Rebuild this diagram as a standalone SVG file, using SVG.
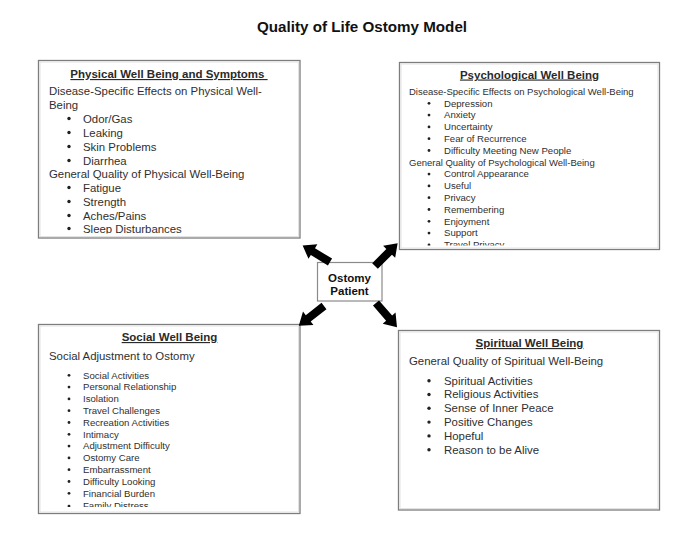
<svg xmlns="http://www.w3.org/2000/svg" width="700" height="541" viewBox="0 0 700 541">
<style>
.box{fill:#fff;stroke:#7d7d7d;stroke-width:1.3}
.inner{fill:none;stroke:#e2e2e2;stroke-width:1}
.ttl{font-family:"Liberation Sans",Arial,sans-serif;font-weight:bold;fill:#111;text-anchor:middle}
.hd{font-family:"Liberation Sans",Arial,sans-serif;font-size:11.5px;fill:#2a2a2a;text-decoration:underline}
.b{font-family:"Liberation Sans",Arial,sans-serif;fill:#2f2f2f}
.f115{font-size:11.4px}
.f96{font-size:9.6px}
.dot{fill:#222}
.arr{fill:#000}
</style>
<defs>
<clipPath id="c1"><rect x="39" y="61" width="260" height="172.5"/></clipPath>
<clipPath id="c2"><rect x="400" y="63" width="259" height="182.5"/></clipPath>
<clipPath id="c3"><rect x="39" y="325" width="260" height="182"/></clipPath>
<path id="arrow" d="M0,-4 L20,-4 L20,-8.5 L32,0 L20,8.5 L20,4 L0,4 Z"/>
</defs>
<rect width="700" height="541" fill="#fff"/>
<text class="ttl" x="362" y="32" font-size="15.2px">Quality of Life Ostomy Model</text>

<g id="physical">
<rect class="box" x="38.5" y="60.5" width="261.5" height="177.5"/>
<rect class="inner" x="40" y="62" width="258.5" height="174.5"/>
<g clip-path="url(#c1)">
<text class="ttl hd" x="169" y="78" xml:space="preserve">Physical Well Being and Symptoms </text>
<g class="b f115">
<text x="49" y="95">Disease-Specific Effects on Physical Well-</text>
<text x="49" y="108.5">Being</text>
<text x="83" y="122.5">Odor/Gas</text>
<text x="83" y="136.5">Leaking</text>
<text x="83" y="150.5">Skin Problems</text>
<text x="83" y="164.5">Diarrhea</text>
<text x="49" y="177.5">General Quality of Physical Well-Being</text>
<text x="83" y="191.5">Fatigue</text>
<text x="83" y="205.5">Strength</text>
<text x="83" y="219.5">Aches/Pains</text>
<text x="83" y="232.5">Sleep Disturbances</text>
</g>
<g class="dot">
<circle cx="69" cy="118.5" r="1.7"/><circle cx="69" cy="132.5" r="1.7"/><circle cx="69" cy="146.5" r="1.7"/><circle cx="69" cy="160.5" r="1.7"/>
<circle cx="69" cy="187.5" r="1.7"/><circle cx="69" cy="201.5" r="1.7"/><circle cx="69" cy="215.5" r="1.7"/><circle cx="69" cy="228.5" r="1.7"/>
</g>
</g>
</g>

<g id="psychological">
<rect class="box" x="399.5" y="62.5" width="260" height="187"/>
<rect class="inner" x="401" y="64" width="257" height="184"/>
<g clip-path="url(#c2)">
<text class="ttl hd" x="529.5" y="78.5">Psychological Well Being</text>
<g class="b" font-size="9.5px">
<text x="409" y="94.5">Disease-Specific Effects on Psychological Well-Being</text>
<text x="409" y="165.5">General Quality of Psychological Well-Being</text>
</g>
<g class="b f96">
<text x="444" y="106.5">Depression</text>
<text x="444" y="118.3">Anxiety</text>
<text x="444" y="130.1">Uncertainty</text>
<text x="444" y="141.9">Fear of Recurrence</text>
<text x="444" y="153.7">Difficulty Meeting New People</text>
<text x="444" y="177.3">Control Appearance</text>
<text x="444" y="189.1">Useful</text>
<text x="444" y="200.9">Privacy</text>
<text x="444" y="212.7">Remembering</text>
<text x="444" y="224.5">Enjoyment</text>
<text x="444" y="236.3">Support</text>
<text x="444" y="248.1">Travel Privacy</text>
</g>
<g class="dot">
<circle cx="429" cy="103.3" r="1.4"/><circle cx="429" cy="115.1" r="1.4"/><circle cx="429" cy="126.9" r="1.4"/><circle cx="429" cy="138.7" r="1.4"/><circle cx="429" cy="150.5" r="1.4"/>
<circle cx="429" cy="174.1" r="1.4"/><circle cx="429" cy="185.9" r="1.4"/><circle cx="429" cy="197.7" r="1.4"/><circle cx="429" cy="209.5" r="1.4"/><circle cx="429" cy="221.3" r="1.4"/><circle cx="429" cy="233.1" r="1.4"/><circle cx="429" cy="244.9" r="1.4"/>
</g>
</g>
</g>

<g id="patient">
<rect x="317.5" y="262.5" width="64.5" height="38.5" fill="#fff" stroke="#8a8a8a" stroke-width="1.2"/>
<text class="ttl" x="349.5" y="282" font-size="11.5px">Ostomy</text>
<text class="ttl" x="349.5" y="294.5" font-size="11.5px">Patient</text>
</g>

<g id="social">
<rect class="box" x="38.5" y="324.5" width="261.5" height="189"/>
<rect class="inner" x="40" y="326" width="258.5" height="186"/>
<g clip-path="url(#c3)">
<text class="ttl hd" x="169.5" y="341">Social Well Being</text>
<text class="b f115" x="49" y="360">Social Adjustment to Ostomy</text>
<g class="b f96">
<text x="83" y="378.5">Social Activities</text>
<text x="83" y="390.3">Personal Relationship</text>
<text x="83" y="402.1">Isolation</text>
<text x="83" y="413.9">Travel Challenges</text>
<text x="83" y="425.7">Recreation Activities</text>
<text x="83" y="437.5">Intimacy</text>
<text x="83" y="449.3">Adjustment Difficulty</text>
<text x="83" y="461.1">Ostomy Care</text>
<text x="83" y="472.9">Embarrassment</text>
<text x="83" y="484.7">Difficulty Looking</text>
<text x="83" y="496.5">Financial Burden</text>
<text x="83" y="509.3">Family Distress</text>
</g>
<g class="dot">
<circle cx="69" cy="375.3" r="1.4"/><circle cx="69" cy="387.1" r="1.4"/><circle cx="69" cy="398.9" r="1.4"/><circle cx="69" cy="410.7" r="1.4"/><circle cx="69" cy="422.5" r="1.4"/><circle cx="69" cy="434.3" r="1.4"/>
<circle cx="69" cy="446.1" r="1.4"/><circle cx="69" cy="457.9" r="1.4"/><circle cx="69" cy="469.7" r="1.4"/><circle cx="69" cy="481.5" r="1.4"/><circle cx="69" cy="493.3" r="1.4"/><circle cx="69" cy="506.1" r="1.4"/>
</g>
</g>
</g>

<g id="spiritual">
<rect class="box" x="398.5" y="330.5" width="261" height="179.5"/>
<rect class="inner" x="400" y="332" width="258" height="176.5"/>
<text class="ttl hd" x="529.5" y="347">Spiritual Well Being</text>
<text class="b f115" x="409" y="365">General Quality of Spiritual Well-Being</text>
<g class="b f115">
<text x="444" y="384.5">Spiritual Activities</text>
<text x="444" y="398.3">Religious Activities</text>
<text x="444" y="412.1">Sense of Inner Peace</text>
<text x="444" y="425.9">Positive Changes</text>
<text x="444" y="439.7">Hopeful</text>
<text x="444" y="453.5">Reason to be Alive</text>
</g>
<g class="dot">
<circle cx="429" cy="380.7" r="1.7"/><circle cx="429" cy="394.5" r="1.7"/><circle cx="429" cy="408.3" r="1.7"/><circle cx="429" cy="422.1" r="1.7"/><circle cx="429" cy="435.9" r="1.7"/><circle cx="429" cy="449.7" r="1.7"/>
</g>
</g>

<g id="connectors" class="arr">
<use href="#arrow" transform="translate(330,262) rotate(211.3)"/>
<use href="#arrow" transform="translate(375,266) rotate(-45)"/>
<use href="#arrow" transform="translate(324,306) rotate(142)"/>
<use href="#arrow" transform="translate(376,303) rotate(49)"/>
</g>
</svg>
